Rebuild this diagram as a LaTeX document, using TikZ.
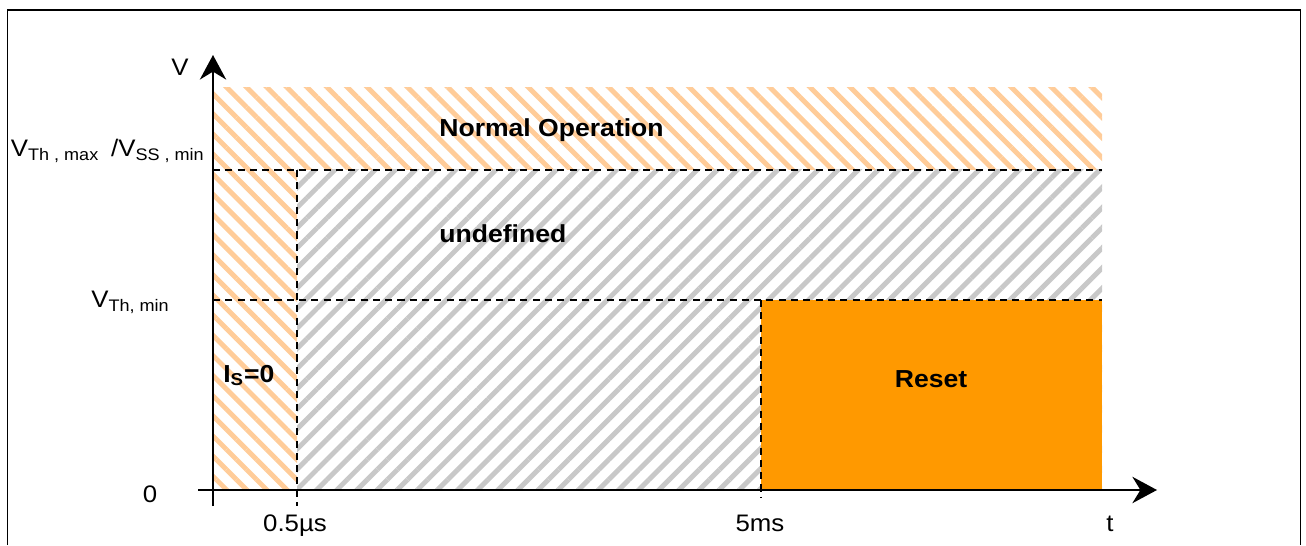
\documentclass[tikz,border=0pt]{standalone}
\usepackage{fontspec}
\setmainfont{Liberation Sans}[FakeStretch=1.08]
\usetikzlibrary{arrows.meta, patterns.meta, positioning}

\definecolor{hatchorange}{HTML}{FFCC99}
\definecolor{hatchgray}{HTML}{C8C8C8}
\definecolor{resetorange}{HTML}{FF9900}

\tikzset{
  lbl/.style={font=\fontsize{13.6}{16}\selectfont, inner sep=0pt},
  region/.style={font=\fontsize{14}{16}\selectfont\bfseries, inner sep=0pt},
  axis/.style={line width=1.1pt, -{Stealth[length=14pt, width=15pt]}},
  guide/.style={line width=0.8pt, dash pattern=on 4pt off 3pt},
  orangehatch/.style={pattern={Lines[angle=-45, distance=8.1pt, line width=2.8pt]}, pattern color=hatchorange},
  grayhatch/.style={pattern={Lines[angle=45, distance=8.1pt, line width=2.8pt]}, pattern color=hatchgray},
}

\begin{document}
\begin{tikzpicture}[x=0.02cm, y=0.02cm]
    \useasboundingbox (0,0) rectangle (1306,545);
    % frame
    \draw[line width=1.1pt] (7.5,0) |- (1300.5,535) -- (1300.5,0);

    \coordinate (O) at (213,55);
    \coordinate (tA) at (297,55);
    \coordinate (tB) at (761,55);
    \coordinate (tEnd) at (1102,55);
    \coordinate (vLow) at (213,245);
    \coordinate (vHigh) at (213,375);
    \coordinate (vTop) at (213,457);

    % regions
    \fill[orangehatch] (vHigh) rectangle (tEnd |- vTop);
    \fill[orangehatch] (O) rectangle (tA |- vHigh);
    \fill[grayhatch] (tA) rectangle (tEnd |- vHigh);
    \fill[resetorange] (tB) rectangle (tEnd |- vLow);

    % thresholds
    \draw[guide] (vHigh) -- (tEnd |- vHigh);
    \draw[guide] (vLow) -- (tEnd |- vLow);
    \draw[guide] (tA |- vHigh) -- ++(0,-336);
    \draw[guide] (tB |- vLow) -- ++(0,-197);

    % axes
    \draw[axis] (213,39) -- (213,490);
    \draw[axis] (198,55) -- (1157,55);

    \node[lbl, anchor=base] (vlab) at (180,469) {V};
    \node[lbl, anchor=base east] (vhigh) at (205,388) {V\textsubscript{Th , max}\enspace/V\textsubscript{SS , min}};
    \node[lbl, anchor=base east] (vlow) at (170,237) {V\textsubscript{Th, min}};
    \node[lbl, anchor=base] (zero) at (150,43) {0};
    \node[lbl, anchor=base] (ta) at (295,14) {0.5µs};
    \node[lbl, anchor=base] (tb) at (760,14) {5ms};
    \node[lbl, anchor=base] (tl) at (1110,14) {t};

    \node[region, anchor=base west] (normal) at (439,408) {Normal Operation};
    \node[region, anchor=base west] (undef) at (439,302) {undefined};
    \node[region, anchor=base west] (is0) at (223,163) {I\textsubscript{S}=0};
    \node[region, anchor=base] (reset) at (931,157) {Reset};
\end{tikzpicture}
\end{document}
